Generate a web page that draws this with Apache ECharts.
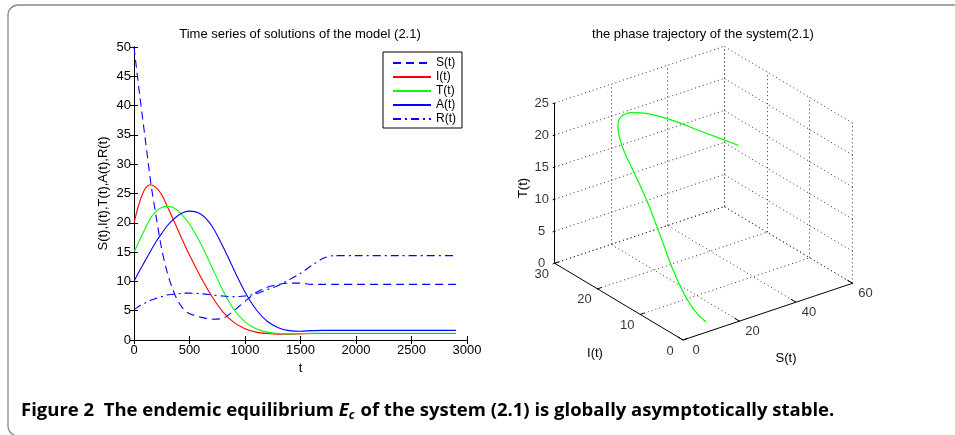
<!DOCTYPE html>
<html>
<head>
<meta charset="utf-8">
<script src="https://cdn.jsdelivr.net/npm/echarts@6/dist/echarts.min.js"></script>
<style>
html, body {margin: 0; padding: 0; background: #fff;}
#chart {width: 955px; height: 435px;}
</style>
</head>
<body>
<div id="chart"></div>
<script>
// values
var time_pts = [0, 50, 100, 150, 200, 250, 300, 350, 400, 450, 500, 600, 700, 800, 900, 1000, 1100, 1200, 1300, 1400, 1500, 1600, 1700, 1800, 2000, 2400, 2900];
var s_vals = [50, 42, 34.5, 27, 21, 15.5, 11.5, 8.6, 6.5, 5.2, 4.5, 3.9, 3.55, 3.7, 5.0, 6.6, 8.1, 9.0, 9.5, 9.7, 9.7, 9.5, 9.5, 9.5, 9.5, 9.5, 9.5];
var i_vals = [20, 23.5, 25.8, 26.5, 26, 24.8, 22.8, 20.7, 18.6, 16.5, 14.5, 10.8, 7.5, 4.8, 3.0, 1.9, 1.35, 1.1, 1.0, 1.0, 1.05, 1.1, 1.1, 1.1, 1.1, 1.1, 1.1];
var t_vals = [15, 17, 19, 20.8, 22, 22.6, 22.8, 22.6, 22, 21, 19.8, 16.5, 12.5, 8.5, 5.2, 3.1, 1.9, 1.35, 1.1, 1.05, 1.1, 1.15, 1.15, 1.15, 1.15, 1.15, 1.15];
var a_vals = [10, 11.8, 13.5, 15.2, 16.8, 18.2, 19.5, 20.5, 21.3, 21.8, 22.0, 21.5, 19.5, 16, 12, 8.2, 5.2, 3.2, 2.1, 1.6, 1.5, 1.6, 1.65, 1.65, 1.65, 1.65, 1.65];
var r_vals = [5.2, 5.8, 6.3, 6.8, 7.1, 7.4, 7.7, 7.8, 7.9, 8.0, 8.0, 7.9, 7.7, 7.5, 7.4, 7.5, 7.9, 8.6, 9.3, 10.3, 11.4, 12.7, 13.9, 14.4, 14.4, 14.4, 14.4];
var series_names = ['S(t)', 'I(t)', 'T(t)', 'A(t)', 'R(t)'];

// 3d box ticks
var s_ticks = [0, 20, 40, 60];
var i_ticks = [0, 10, 20, 30];
var t_ticks = [0, 5, 10, 15, 20, 25];

var font = 'Liberation Sans';

// oblique view of the (S, I, T) box, gives offsets in pixels from the origin corner
function project(s, i, t) {
    return [2.825 * s - 4.277 * i, 0.945 * s + 2.557 * i + 6.41 * t];
}
function seg(a, b) {
    return {coords: [project(a[0], a[1], a[2]), project(b[0], b[1], b[2])]};
}
function pairs(vals) {
    return time_pts.map((t, k) => [t, vals[k]]);
}

var s_max = s_ticks[s_ticks.length - 1];
var i_max = i_ticks[i_ticks.length - 1];
var t_max = t_ticks[t_ticks.length - 1];

var grid_segs = [];
s_ticks.forEach(s => { if (s > 0) grid_segs.push(seg([s, 0, 0], [s, i_max, 0])); });
i_ticks.forEach(i => { if (i > 0) grid_segs.push(seg([0, i, 0], [s_max, i, 0])); });
t_ticks.forEach(t => grid_segs.push(seg([0, i_max, t], [s_max, i_max, t])));
s_ticks.forEach(s => { if (s > 0) grid_segs.push(seg([s, i_max, 0], [s, i_max, t_max])); });
t_ticks.forEach(t => grid_segs.push(seg([s_max, 0, t], [s_max, i_max, t])));
i_ticks.forEach(i => grid_segs.push(seg([s_max, i, 0], [s_max, i, t_max])));

var axis_segs = [
    seg([0, i_max, 0], [0, i_max, t_max]),
    seg([0, 0, 0], [0, i_max, 0]),
    seg([0, 0, 0], [s_max, 0, 0]),
];
t_ticks.forEach(t => axis_segs.push(seg([0, i_max, t], [-0.7, i_max, t])));
i_ticks.forEach(i => axis_segs.push(seg([0, i, 0], [1.5, i, 0])));
s_ticks.forEach(s => axis_segs.push(seg([s, 0, 0], [s, 1.2, 0])));

var traj = time_pts.map((t, k) => project(s_vals[k], i_vals[k], t_vals[k]));

var t_labels = t_ticks.map(t => project(0, i_max, t).concat([String(t)]));
var i_labels = i_ticks.map(i => project(0, i, 0).concat([String(i)]));
var s_labels = s_ticks.map(s => project(s, 0, 0).concat([String(s)]));

function label_series(data, offset) {
    return {
        type: 'scatter', xAxisIndex: 2, yAxisIndex: 2, data: data, symbolSize: 0, silent: true, clip: false,
        label: {show: true, position: 'inside', offset: offset, formatter: p => p.data[2],
                color: '#000', fontSize: 13, fontFamily: font},
    };
}

var line_style = {width: 1.1};
var tick_opts = {show: true, inside: true, length: 4, lineStyle: {color: '#000'}};
var axis_line = {show: true, lineStyle: {color: '#000', width: 1}};
var label_font = {color: '#000', fontSize: 13, fontFamily: font};

// caption pieces measured so they sit one after another
var cap_font = '"Open Sans"';
var ctx = document.createElement('canvas').getContext('2d');
function w(text, f) { ctx.font = f; return ctx.measureText(text).width; }
var cap1 = 'Figure 2  The endemic equilibrium ';
var cap2 = ' of the system (2.1) is globally asymptotically stable.';
var f_main = 'bold 18.5px ' + cap_font;
var f_e = 'italic bold 18.5px ' + cap_font;
var f_sub = 'italic bold 12px ' + cap_font;
var cx = 21;
var cap_y = 411;
var x2 = cx + w(cap1, f_main);
var x3 = x2 + w('E', f_e);
var x4 = x3 + w('c', f_sub) + 1;

var chart = echarts.init(document.getElementById('chart'));
chart.setOption({
    animation: false,
    backgroundColor: '#fff',
    textStyle: {fontFamily: font},
    grid: [
        {left: 134, top: 47, width: 333, height: 293},
        {left: 543, top: 30, width: 320, height: 330, show: false},
    ],
    xAxis: [
        {type: 'value', gridIndex: 0, min: 0, max: 3000, interval: 500, name: 't', nameLocation: 'middle', nameGap: 15,
         nameTextStyle: label_font, axisLine: axis_line, axisTick: tick_opts, splitLine: {show: false},
         axisLabel: Object.assign({margin: 4, formatter: v => String(v)}, label_font)},
        {type: 'value', gridIndex: 0, position: 'top', min: 0, max: 3000, interval: 500,
         axisLine: axis_line, axisTick: tick_opts, splitLine: {show: false}, axisLabel: {show: false}},
        {type: 'value', gridIndex: 1, min: -140, max: 180, show: false},
    ],
    yAxis: [
        {type: 'value', gridIndex: 0, min: 0, max: 50, interval: 5, name: 'S(t),I(t),T(t),A(t),R(t)', nameLocation: 'middle', nameGap: 24,
         nameTextStyle: label_font, axisLine: axis_line, axisTick: tick_opts, splitLine: {show: false},
         axisLabel: Object.assign({margin: 3, formatter: v => String(v)}, label_font)},
        {type: 'value', gridIndex: 0, position: 'right', min: 0, max: 50, interval: 5,
         axisLine: axis_line, axisTick: tick_opts, splitLine: {show: false}, axisLabel: {show: false}},
        {type: 'value', gridIndex: 1, min: -20, max: 310, show: false},
    ],
    legend: {
        left: 383, top: 52, orient: 'vertical', padding: [5, 6, 3, 9], itemWidth: 38, itemHeight: 10, itemGap: 2,
        borderColor: '#000', borderWidth: 1, backgroundColor: '#fff',
        itemStyle: {opacity: 0},
        textStyle: {fontSize: 12, color: '#000', fontFamily: font}, data: series_names,
    },
    graphic: [
        {type: 'rect', shape: {x: 8, y: 5, width: 1000, height: 431, r: 10}, style: {fill: 'none', stroke: '#888', lineWidth: 1.3}, silent: true},
        {type: 'text', x: 300, y: 34, style: {text: 'Time series of solutions of the model (2.1)', font: '13px ' + font, fill: '#000', textAlign: 'center', textVerticalAlign: 'middle'}},
        {type: 'text', x: 703, y: 34, style: {text: 'the phase trajectory of the system(2.1)', font: '13px ' + font, fill: '#000', textAlign: 'center', textVerticalAlign: 'middle'}},
        {type: 'text', x: 523, y: 188, rotation: Math.PI / 2, style: {text: 'T(t)', font: '13px ' + font, fill: '#000', textAlign: 'center', textVerticalAlign: 'middle'}},
        {type: 'text', x: 595, y: 353, style: {text: 'I(t)', font: '13px ' + font, fill: '#000', textAlign: 'center', textVerticalAlign: 'middle'}},
        {type: 'text', x: 786, y: 358, style: {text: 'S(t)', font: '13px ' + font, fill: '#000', textAlign: 'center', textVerticalAlign: 'middle'}},
        {type: 'text', x: cx, y: cap_y, style: {text: cap1, font: f_main, fill: '#000', textVerticalAlign: 'middle'}},
        {type: 'text', x: x2, y: cap_y, style: {text: 'E', font: f_e, fill: '#000', textVerticalAlign: 'middle'}},
        {type: 'text', x: x3, y: cap_y + 5, style: {text: 'c', font: f_sub, fill: '#000', textVerticalAlign: 'middle'}},
        {type: 'text', x: x4, y: cap_y, style: {text: cap2, font: f_main, fill: '#000', textVerticalAlign: 'middle'}},
    ],
    series: [
        {name: 'S(t)', type: 'line', data: pairs(s_vals), smooth: 0.3, symbol: 'none', color: '#0000ff',
         lineStyle: Object.assign({type: [8, 5]}, line_style)},
        {name: 'I(t)', type: 'line', data: pairs(i_vals), smooth: 0.3, symbol: 'none', color: '#ff0000', lineStyle: line_style},
        {name: 'T(t)', type: 'line', data: pairs(t_vals), smooth: 0.3, symbol: 'none', color: '#00ff00', lineStyle: line_style},
        {name: 'A(t)', type: 'line', data: pairs(a_vals), smooth: 0.3, symbol: 'none', color: '#0000ff', lineStyle: line_style},
        {name: 'R(t)', type: 'line', data: pairs(r_vals), smooth: 0.3, symbol: 'none', color: '#0000ff',
         lineStyle: Object.assign({type: [8, 4, 2, 4]}, line_style)},
        {type: 'lines', coordinateSystem: 'cartesian2d', xAxisIndex: 2, yAxisIndex: 2, data: grid_segs, silent: true,
         lineStyle: {color: '#333', width: 1, type: [1, 3], opacity: 1}},
        {type: 'lines', coordinateSystem: 'cartesian2d', xAxisIndex: 2, yAxisIndex: 2, data: axis_segs, silent: true,
         lineStyle: {color: '#000', width: 1, opacity: 1}},
        {type: 'line', xAxisIndex: 2, yAxisIndex: 2, data: traj, smooth: 0.3, symbol: 'none', color: '#00ff00',
         lineStyle: {width: 1.2}, clip: false},
        label_series(t_labels, [-13, 0]),
        label_series(i_labels, [-13, 11]),
        label_series(s_labels, [13, 10.5]),
    ],
});
</script>
</body>
</html>
